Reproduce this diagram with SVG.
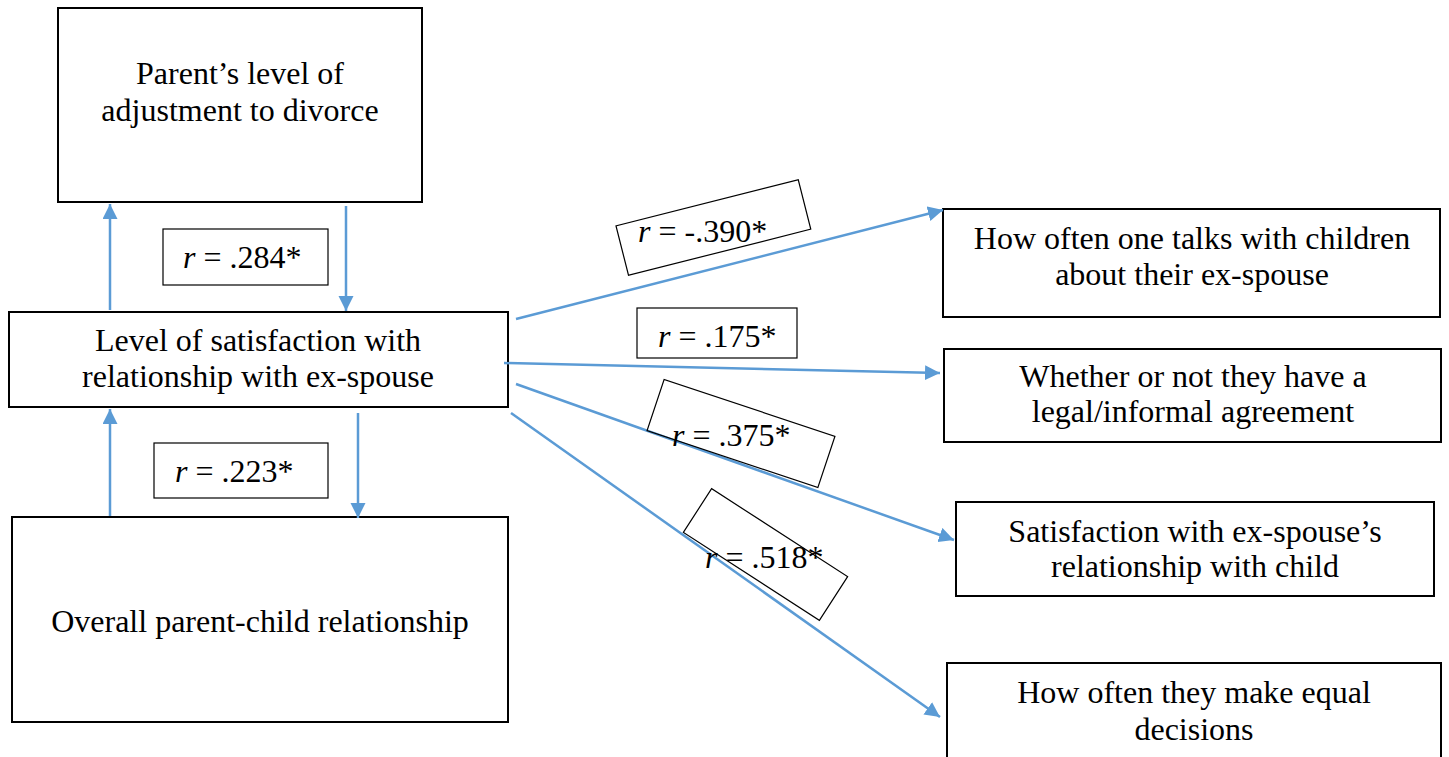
<svg xmlns="http://www.w3.org/2000/svg" width="1449" height="757" viewBox="0 0 1449 757">
<style>
.box{fill:#fff;stroke:#000;stroke-width:2}
.lbl{fill:none;stroke:#000;stroke-width:1.2}
.t{font-family:"Liberation Serif","Times New Roman",serif;font-size:32px;fill:#000;text-anchor:middle}
.r{font-family:"Liberation Serif","Times New Roman",serif;font-size:32px;fill:#000}
.c{stroke:#5B9BD5;stroke-width:2.5;fill:none;marker-end:url(#ah)}
</style>
<defs>
<marker id="ah" markerUnits="userSpaceOnUse" markerWidth="16" markerHeight="16" refX="15" refY="7.5" orient="auto">
<path d="M0,0 L15,7.5 L0,15 z" fill="#5B9BD5"/>
</marker>
</defs>
<rect width="1449" height="757" fill="#fff"/>
<g id="n-adjust"><rect class="box" x="58" y="8" width="364" height="194"/>
<text class="t" x="240" y="84">Parent’s level of</text><text class="t" x="240" y="121">adjustment to divorce</text></g>
<g id="n-satisfaction"><rect class="box" x="9" y="312" width="499" height="95"/>
<text class="t" x="258" y="351">Level of satisfaction with</text><text class="t" x="258" y="387">relationship with ex-spouse</text></g>
<g id="n-parentchild"><rect class="box" x="12" y="517" width="496" height="205"/>
<text class="t" x="260" y="632">Overall parent-child relationship</text></g>
<g id="n-talks"><rect class="box" x="943" y="209" width="497" height="108"/>
<text class="t" x="1192" y="249">How often one talks with children</text><text class="t" x="1192" y="285">about their ex-spouse</text></g>
<g id="n-agreement"><rect class="box" x="944" y="349" width="497" height="93"/>
<text class="t" x="1193" y="387">Whether or not they have a</text><text class="t" x="1193" y="422">legal/informal agreement</text></g>
<g id="n-exchild"><rect class="box" x="956" y="502" width="478" height="94"/>
<text class="t" x="1195" y="542">Satisfaction with ex-spouse’s</text><text class="t" x="1195" y="577">relationship with child</text></g>
<g id="n-decisions"><rect class="box" x="947" y="663" width="494" height="110"/>
<text class="t" x="1194" y="703">How often they make equal</text><text class="t" x="1194" y="740">decisions</text></g>
<g id="connectors">
<line class="c" x1="110" y1="310" x2="110" y2="204"/>
<line class="c" x1="346" y1="206" x2="346" y2="311"/>
<line class="c" x1="110" y1="516" x2="110" y2="409"/>
<line class="c" x1="358" y1="413" x2="358" y2="518"/>
<line class="c" x1="516" y1="319" x2="943" y2="210"/>
<line class="c" x1="504" y1="363" x2="940" y2="373"/>
<line class="c" x1="516" y1="384" x2="954" y2="540"/>
<line class="c" x1="511" y1="413" x2="940" y2="717"/>
</g>
<g id="labels">
<g id="l-284"><rect class="lbl" x="163" y="229" width="165" height="56"/><text class="r" x="183" y="268"><tspan font-style="italic">r</tspan> = .284*</text></g>
<g id="l-223"><rect class="lbl" x="154" y="443" width="174" height="55"/><text class="r" x="175" y="482"><tspan font-style="italic">r</tspan> = .223*</text></g>
<g id="l-390"><rect class="lbl" x="-94" y="-26" width="188" height="51" transform="translate(713.5,228) rotate(-14.2)"/><text class="r" x="638" y="242"><tspan font-style="italic">r</tspan> = -.390*</text></g>
<g id="l-175"><rect class="lbl" x="637" y="308" width="160" height="50"/><text class="r" x="658" y="347"><tspan font-style="italic">r</tspan> = .175*</text></g>
<g id="l-375"><rect class="lbl" x="-90" y="-27" width="180" height="54" transform="translate(741,433.5) rotate(18.4)"/><text class="r" x="672" y="446"><tspan font-style="italic">r</tspan> = .375*</text></g>
<g id="l-518"><rect class="lbl" x="-81" y="-26" width="162" height="52" transform="translate(765.5,554.5) rotate(32.9)"/><text class="r" x="705" y="568"><tspan font-style="italic">r</tspan> = .518*</text></g>
</g>
</svg>
